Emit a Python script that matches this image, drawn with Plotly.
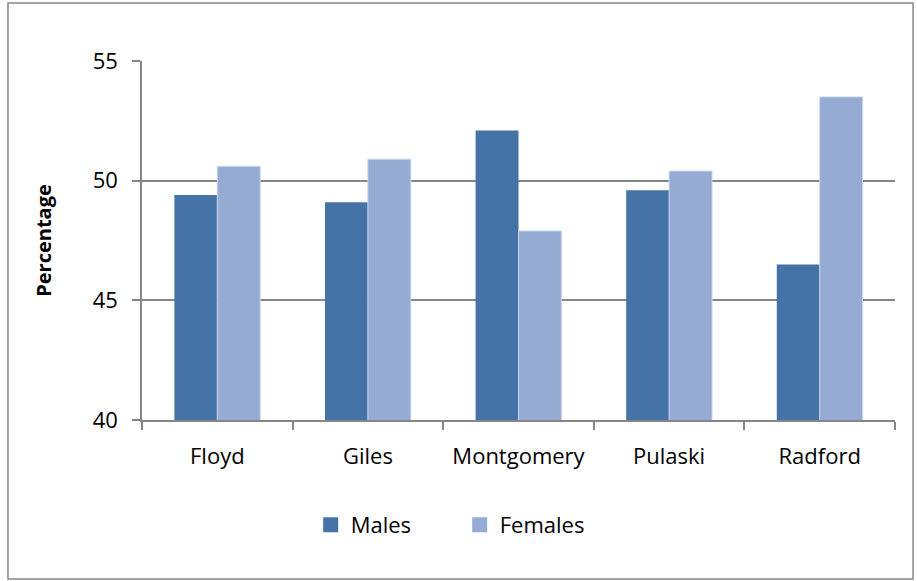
import plotly.graph_objects as go

counties = ["Floyd", "Giles", "Montgomery", "Pulaski", "Radford"]
males = [49.4, 49.1, 52.1, 49.6, 46.5]
females = [50.6, 50.9, 47.9, 50.4, 53.5]

axis_grey = "#868686"
male_col = "#4573A8"
female_col = "#95ABD3"
font_name = "Open Sans"

fig = go.Figure()
fig.add_trace(go.Bar(x=counties, y=males, name="Males", showlegend=False,
                     marker=dict(color=male_col, line=dict(width=0))))
fig.add_trace(go.Bar(x=counties, y=females, name="Females", showlegend=False,
                     marker=dict(color=female_col, line=dict(width=1, color="#C9D6EA"))))

# legend entries with bigger square swatches
for name, col in [("Males", male_col), ("Females", female_col)]:
    fig.add_trace(go.Scatter(x=[None], y=[None], mode="markers", name=name,
                             marker=dict(symbol="square", size=15, color=col)))

fig.update_layout(
    width=917, height=581,
    paper_bgcolor="white", plot_bgcolor="white",
    margin=dict(l=142, r=22, t=61, b=161),
    barmode="group", bargap=0.43, bargroupgap=0,
    font=dict(family=font_name, size=22, color="black"),
    legend=dict(orientation="h", x=0.224, y=-0.292, xanchor="left", yanchor="middle",
                font=dict(size=22), itemwidth=30, tracegroupgap=0,
                entrywidth=104, entrywidthmode="pixels"),
    xaxis=dict(showline=True, linecolor=axis_grey, linewidth=1.5,
               ticks="outside", tickson="boundaries", ticklen=8,
               tickcolor=axis_grey, tickwidth=1.5, showgrid=False,
               ticklabelstandoff=16),
    yaxis=dict(range=[40, 55], dtick=5, showline=True, linecolor=axis_grey, linewidth=1.5,
               ticks="outside", ticklen=8, tickcolor=axis_grey, tickwidth=1.5,
               gridcolor=axis_grey, gridwidth=1.5, zeroline=False,
               ticklabelstandoff=10,
               title=dict(text="<b>Percentage</b>", font=dict(size=20), standoff=36)),
)

# chart frame
fig.add_shape(type="rect", xref="paper", yref="paper",
              x0=-0.178, x1=1.024, y0=-0.443, y1=1.1616,
              line=dict(color=axis_grey, width=1.5), layer="below")

fig.write_html("out.html", config={"displayModeBar": False},
               post_script="document.body.style.margin='0';")
